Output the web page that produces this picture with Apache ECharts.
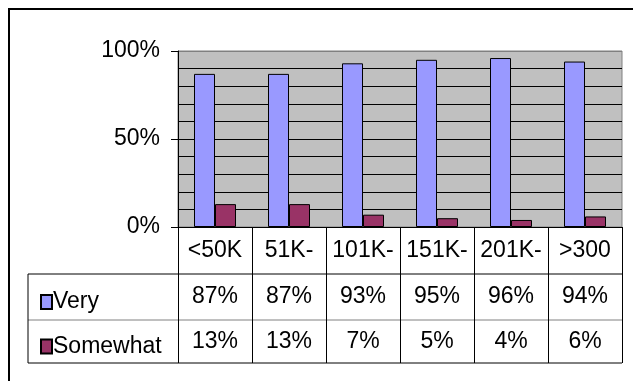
<!DOCTYPE html>
<html>
<head>
<meta charset="utf-8">
<script src="https://cdn.jsdelivr.net/npm/echarts@6/dist/echarts.min.js"></script>
<style>
html,body{margin:0;padding:0;background:#fff;}
#chart{width:633px;height:381px;}
</style>
</head>
<body>
<div id="chart"></div>
<script>
var categories = ['<50K', '51K-', '101K-', '151K-', '201K-', '>300'];
var seriesNames = ['Very', 'Somewhat'];
var veryValues = [87, 87, 93, 95, 96, 94];
var somewhatValues = [13, 13, 7, 5, 4, 6];
var yTickValues = [0, 50, 100];

var FONT = '"Liberation Sans", Arial, sans-serif';
var chart = echarts.init(document.getElementById('chart'), null, {renderer: 'canvas'});

function pct(v) { return v + '%'; }

var rowLabel = {
  interval: 0, fontSize: 23, fontFamily: FONT, color: '#000', verticalAlign: 'middle'
};

var option = {
  animation: false,
  backgroundColor: '#fff',
  textStyle: {fontFamily: FONT},
  grid: {
    left: 178, top: 51, width: 444, height: 176,
    show: true, backgroundColor: '#c0c0c0', borderColor: '#808080', borderWidth: 1
  },
  legend: {
    orient: 'vertical', left: 35, top: 284, itemGap: 18.5,
    icon: 'rect', itemWidth: 11, itemHeight: 14,
    data: seriesNames,
    textStyle: {fontSize: 23, fontFamily: FONT, color: '#000', lineHeight: 26, padding: [0, 0, 0, -4]}
  },
  xAxis: [
    {
      type: 'category', data: categories, position: 'bottom', offset: 0,
      axisLine: {show: true, lineStyle: {color: '#000', width: 1}},
      axisTick: {show: true, length: 47, lineStyle: {color: '#000'}},
      axisLabel: Object.assign({margin: 23.5}, rowLabel)
    },
    {
      type: 'category', data: veryValues.map(pct), position: 'bottom', offset: 47,
      axisLine: {show: false},
      axisTick: {show: true, length: 46, lineStyle: {color: '#000'}},
      axisLabel: Object.assign({margin: 23}, rowLabel)
    },
    {
      type: 'category', data: somewhatValues.map(pct), position: 'bottom', offset: 93,
      axisLine: {show: false},
      axisTick: {show: true, length: 43, lineStyle: {color: '#000'}},
      axisLabel: Object.assign({margin: 21.5}, rowLabel)
    }
  ],
  yAxis: {
    type: 'value', min: 0, max: 100, interval: 50,
    axisLine: {show: true, lineStyle: {color: '#000'}},
    axisTick: {show: true, length: 7, lineStyle: {color: '#000'}},
    axisLabel: {
      formatter: function (v) { return v + '%'; },
      fontSize: 23, fontFamily: FONT, color: '#000', margin: 18
    },
    splitLine: {
      show: true,
      lineStyle: {color: ['#000', '#000', '#808080'], width: 1}
    },
    minorTick: {show: false, splitNumber: 5},
    minorSplitLine: {show: true, lineStyle: {color: '#000', width: 1}}
  },
  series: [
    {
      name: seriesNames[0], type: 'bar', data: veryValues, xAxisIndex: 0,
      barWidth: 21, barGap: '0%',
      itemStyle: {color: '#9999ff', borderColor: '#000', borderWidth: 1}
    },
    {
      name: seriesNames[1], type: 'bar', data: somewhatValues, xAxisIndex: 0,
      barWidth: 21, barGap: '0%',
      itemStyle: {color: '#993366', borderColor: '#000', borderWidth: 1}
    }
  ],
  graphic: [
    {type: 'rect', silent: true, shape: {x: 9, y: 9, width: 700, height: 500}, style: {fill: null, stroke: '#000', lineWidth: 2}},
    {type: 'line', silent: true, shape: {x1: 28, y1: 274, x2: 622, y2: 274}, style: {stroke: '#000', lineWidth: 1}},
    {type: 'line', silent: true, shape: {x1: 28, y1: 320, x2: 622, y2: 320}, style: {stroke: '#808080', lineWidth: 1}},
    {type: 'line', silent: true, shape: {x1: 28, y1: 363, x2: 622, y2: 363}, style: {stroke: '#000', lineWidth: 1}},
    {type: 'line', silent: true, shape: {x1: 28, y1: 274, x2: 28, y2: 363}, style: {stroke: '#000', lineWidth: 1}}
  ]
};
chart.setOption(option);
</script>
</body>
</html>
